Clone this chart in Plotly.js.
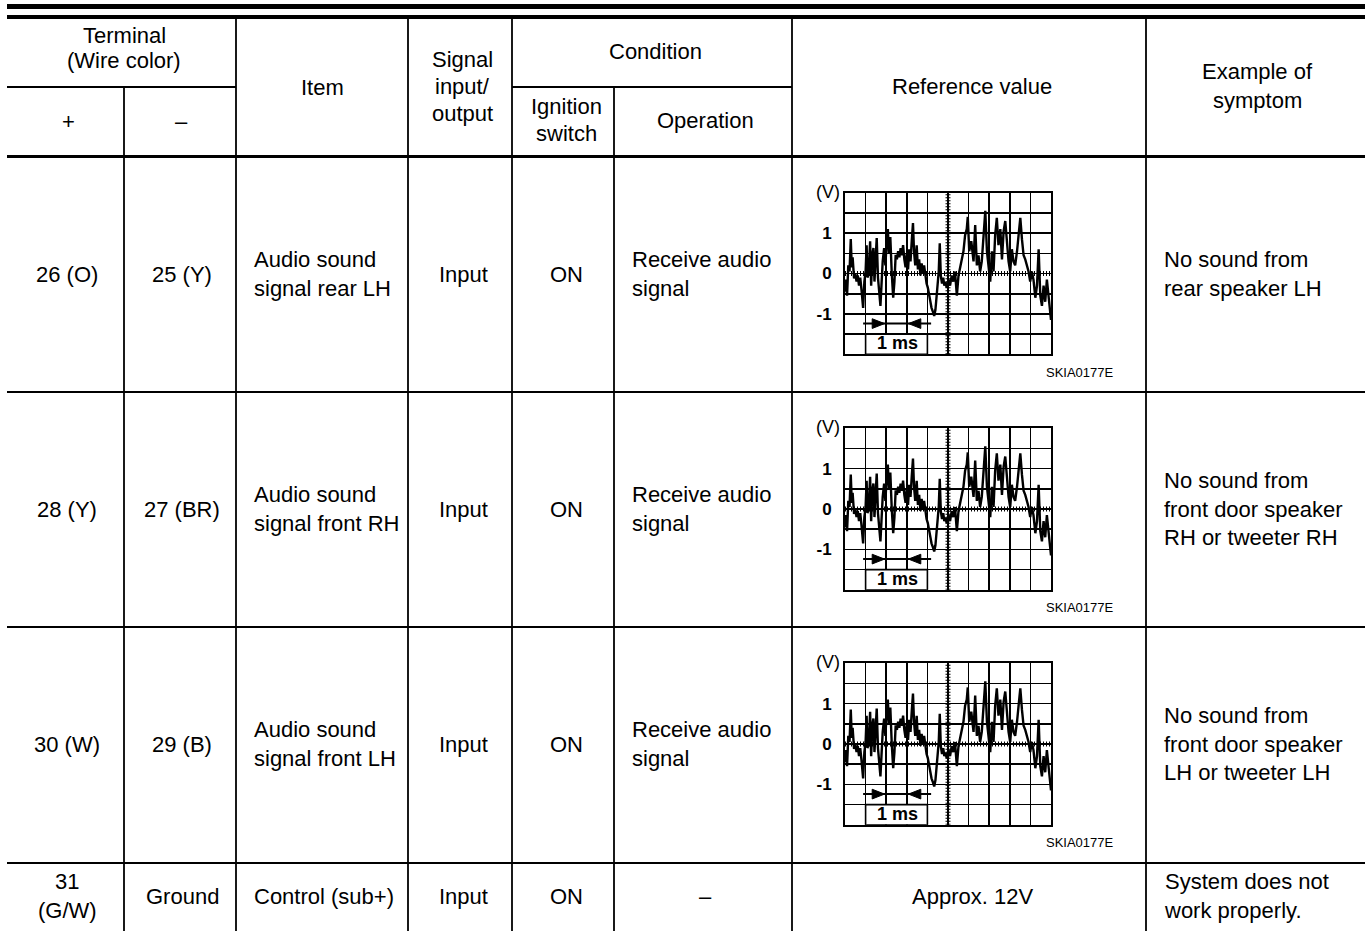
<!DOCTYPE html>
<html><head><meta charset="utf-8">
<script src="https://cdn.plot.ly/plotly-3.0.1.min.js"></script>
<style>html,body{margin:0;padding:0;background:#fff}#chart{width:1365px;height:931px}</style>
</head><body><div id="chart"></div>
<script>
// ---------------- data ----------------
const headerLabels = ['Terminal', '(Wire color)', '+', '–', 'Item', 'Signal', 'input/', 'output',
  'Condition', 'Ignition', 'switch', 'Operation', 'Reference value', 'Example of', 'symptom'];

const plusTerminal  = ['26 (O)', '28 (Y)', '30 (W)', '31<br>(G/W)'];
const minusTerminal = ['25 (Y)', '27 (BR)', '29 (B)', 'Ground'];
const items         = ['Audio sound<br>signal rear LH', 'Audio sound<br>signal front RH', 'Audio sound<br>signal front LH', 'Control (sub+)'];
const signalIO      = ['Input', 'Input', 'Input', 'Input'];
const ignition      = ['ON', 'ON', 'ON', 'ON'];
const operation     = ['Receive audio<br>signal', 'Receive audio<br>signal', 'Receive audio<br>signal', '–'];
const referenceText = [null, null, null, 'Approx. 12V'];
const waveformCode  = ['SKIA0177E', 'SKIA0177E', 'SKIA0177E'];
const symptoms      = ['No sound from<br>rear speaker LH',
                       'No sound from<br>front door speaker<br>RH or tweeter RH',
                       'No sound from<br>front door speaker<br>LH or tweeter LH',
                       'System does not<br>work properly.'];

// oscilloscope trace (time in ms, one division = 1 ms; voltage in V)
const timeMs = [0.00,0.05,0.10,0.16,0.22,0.28,0.33,0.37,0.44,0.50,0.56,0.62,0.68,0.74,0.80,0.88,0.94,1.00,1.05,1.09,
  1.15,1.22,1.27,1.32,1.38,1.43,1.48,1.54,1.60,1.66,1.72,1.77,1.83,1.90,1.96,2.02,2.08,2.13,2.20,2.27,
  2.34,2.40,2.46,2.52,2.58,2.64,2.70,2.76,2.82,2.88,2.94,3.00,3.06,3.12,3.18,3.24,3.30,3.35,3.41,3.48,
  3.54,3.60,3.66,3.72,3.78,3.84,3.90,3.96,4.02,4.08,4.14,4.20,4.27,4.33,4.39,4.45,4.50,4.55,4.60,4.65,
  4.71,4.77,4.82,4.86,4.94,5.02,5.10,5.18,5.26,5.34,5.43,5.51,5.59,5.67,5.75,5.83,5.91,5.96,6.03,6.13,
  6.24,6.32,6.40,6.48,6.56,6.64,6.73,6.81,6.89,6.97,7.05,7.13,7.21,7.29,7.37,7.45,7.54,7.62,7.70,7.78,
  7.86,7.94,8.02,8.10,8.18,8.26,8.35,8.43,8.51,8.59,8.67,8.75,8.83,8.91,8.99,9.07,9.15,9.24,9.32,9.40,
  9.48,9.56,9.64,9.72,9.80,9.88,9.94,10.00];
const voltage = [-0.45,-0.15,-0.55,0.20,0.05,0.85,0.15,0.40,-0.12,0.00,-0.20,-0.05,-0.30,-0.10,-0.40,-0.85,-0.20,0.05,0.70,-0.10,
  0.00,0.80,-0.30,0.45,0.63,-0.20,0.30,0.88,-0.10,-0.40,-0.80,-0.30,0.30,0.63,0.20,0.75,1.10,0.50,0.90,0.00,
  -0.60,-0.20,0.46,0.35,0.55,0.40,0.63,0.45,0.70,0.35,0.15,0.50,0.10,0.60,0.30,0.80,1.25,0.55,0.20,0.70,
  0.10,0.35,-0.05,0.25,0.00,0.20,-0.10,-0.25,-0.35,-0.55,-0.70,-0.85,-0.95,-1.05,-0.90,-0.55,-0.20,0.05,0.75,-0.05,
  -0.25,-0.10,-0.30,-0.21,-0.35,-0.15,-0.30,-0.05,-0.20,0.05,-0.55,-0.05,0.15,0.35,0.55,0.95,1.10,1.40,0.55,0.80,
  0.30,1.20,0.20,0.45,0.05,0.30,1.10,1.55,0.55,0.10,-0.20,0.55,0.05,0.95,1.38,0.70,1.10,0.35,1.05,1.30,
  0.70,0.30,0.05,0.60,0.30,0.20,0.55,0.95,1.38,0.85,0.45,0.35,0.20,0.05,-0.20,0.05,-0.15,-0.60,-0.30,0.60,
  -0.55,-0.80,-0.30,-0.70,-0.15,-0.60,-0.85,-1.15];

const timeTickVals = [0,1,2,3,4,5,6,7,8,9,10];
const voltTickVals = [-2,-1.5,-1,-0.5,0,0.5,1,1.5,2];
const voltTickText = ['','','-1','','0','','1','',''];

// ---------------- geometry (pixels of the 1365x931 page) ----------------
const W = 1365, H = 931;
const FONT = 'Liberation Sans, Arial, Helvetica, sans-serif';
const FS = 22;
const LEFT = 7;
const vCols = [ {x:124, y0:87}, {x:236, y0:19}, {x:408, y0:19}, {x:512, y0:19},
                {x:614, y0:87}, {x:792, y0:19}, {x:1146, y0:19} ];
const rowEdges = [156.5, 392, 627, 863, 931];
const rowMid = [274, 509, 744, 896];
const headerPos = [[124,35],[124,60],[68,121],[181,121],[322,87],[462,59],[462,86],[462,113],
  [655,51],[566,106],[566,133],[705,120],[972,86],[1257,71],[1257,100]];
const scopeLeft = 845, scopeRight = 1051, scopeTopOffset = 36.2, scopeH = 161.6;

// ---------------- build ----------------
const shapes = [];
const annotations = [];
function hline(y, x0, x1, w){ shapes.push({type:'line', xref:'x', yref:'y', x0:x0, x1:x1, y0:y, y1:y, line:{color:'#000', width:w}}); }
function vline(x, y0, y1, w){ shapes.push({type:'line', xref:'x', yref:'y', x0:x, x1:x, y0:y0, y1:y1, line:{color:'#000', width:w}}); }
function txt(s, x, y, anchor, opts){
  annotations.push(Object.assign({xref:'x', yref:'y', x:x, y:y, text:s, showarrow:false,
    xanchor:anchor || 'center', yanchor:'middle', align:anchor === 'left' ? 'left' : 'center',
    font:{family:FONT, size:FS, color:'#000'}}, opts || {}));
}

// table rules
hline(6.5, LEFT, W, 5);
hline(17, LEFT, W, 4);
hline(87, LEFT, 236, 2);
hline(87, 512, 792, 2);
hline(rowEdges[0], LEFT, W, 3);
for (let i = 1; i < 4; i++) hline(rowEdges[i], LEFT, W, 2);
vCols.forEach(c => vline(c.x, c.y0, H, 1.8));

// header
headerLabels.forEach((s, i) => txt(s, headerPos[i][0], headerPos[i][1]));

// body
for (let r = 0; r < 4; r++) {
  const y = rowMid[r];
  txt(plusTerminal[r], 67, y);
  txt(minusTerminal[r], 182, y);
  txt(items[r], 252, y, 'left');
  txt(signalIO[r], 463, y);
  txt(ignition[r], 566, y);
  if (operation[r] === '–') txt(operation[r], 705, y); else txt(operation[r], 630, y, 'left');
  if (referenceText[r]) txt(referenceText[r], 972, y);
  txt(symptoms[r], 1162, y, 'left');
}

const data = [{x:[], y:[], xaxis:'x', yaxis:'y', type:'scatter', mode:'lines', showlegend:false, hoverinfo:'skip'}];
const layout = {
  width: W, height: H, margin:{l:0, r:0, t:0, b:0, pad:0},
  paper_bgcolor:'#fff', plot_bgcolor:'rgba(0,0,0,0)', showlegend:false,
  font:{family:FONT, color:'#000'},
  xaxis:{domain:[0,1], range:[0,W], visible:false, fixedrange:true},
  yaxis:{domain:[0,1], range:[H,0], visible:false, fixedrange:true},
  shapes: shapes, annotations: annotations
};

for (let k = 0; k < 3; k++) {
  const n = k + 2;
  const xa = 'x' + n, ya = 'y' + n;
  const top = rowEdges[k] + scopeTopOffset;
  layout['xaxis' + n] = {domain:[scopeLeft / W, scopeRight / W], range:[0,10], anchor:ya,
    tickmode:'array', tickvals:timeTickVals, showticklabels:false, ticks:'',
    showgrid:true, gridcolor:'#000', gridwidth:1.6, zeroline:false,
    showline:true, mirror:true, linecolor:'#000', linewidth:2, fixedrange:true};
  layout['yaxis' + n] = {domain:[1 - (top + scopeH) / H, 1 - top / H], range:[-2,2], anchor:xa,
    tickmode:'array', tickvals:voltTickVals, ticktext:voltTickText, ticks:'', ticklabelstandoff:8,
    tickfont:{family:FONT, size:17, weight:'bold', color:'#000'},
    showgrid:true, gridcolor:'#000', gridwidth:1.6, zeroline:false,
    showline:true, mirror:true, linecolor:'#000', linewidth:2, fixedrange:true};
  data.push({x:timeMs, y:voltage, xaxis:xa, yaxis:ya, type:'scatter', mode:'lines',
    line:{color:'#000', width:2.4}, showlegend:false, hoverinfo:'skip'});

  // center graticule rulers
  shapes.push({type:'line', xref:xa, yref:ya, x0:5, x1:5, y0:-2, y1:2, layer:'between',
    line:{color:'#000', width:5, dash:'1px,2px'}});
  shapes.push({type:'line', xref:xa, yref:ya, x0:0, x1:10, y0:0, y1:0, layer:'between',
    line:{color:'#000', width:5, dash:'1px,2px'}});
  // 1 ms scale marker
  shapes.push({type:'rect', xref:xa, yref:ya, x0:1, x1:4, y0:-2, y1:-1.5, layer:'above',
    fillcolor:'#fff', line:{color:'#000', width:1.6}});
  shapes.push({type:'line', xref:xa, yref:ya, x0:0.88, x1:4.18, y0:-1.24, y1:-1.24, layer:'above',
    line:{color:'#000', width:2}});
  shapes.push({type:'path', xref:xa, yref:ya, layer:'above', fillcolor:'#000', line:{color:'#000', width:1},
    path:'M1.32,-1.12 L1.92,-1.24 L1.32,-1.36 Z'});
  shapes.push({type:'path', xref:xa, yref:ya, layer:'above', fillcolor:'#000', line:{color:'#000', width:1},
    path:'M3.68,-1.12 L3.08,-1.24 L3.68,-1.36 Z'});
  annotations.push({xref:xa, yref:ya, x:2.55, y:-1.73, text:'1 ms', showarrow:false,
    xanchor:'center', yanchor:'middle', font:{family:FONT, size:18, weight:'bold', color:'#000'}});
  // unit label and figure code
  txt('(V)', 828, top - 1, 'center', {font:{family:FONT, size:18, color:'#000'}});
  txt(waveformCode[k], 1116, rowEdges[k] + 215.5, 'right', {font:{family:FONT, size:13, color:'#000'}});
}

Plotly.newPlot('chart', data, layout, {staticPlot:true, displayModeBar:false});
</script>
</body></html>
